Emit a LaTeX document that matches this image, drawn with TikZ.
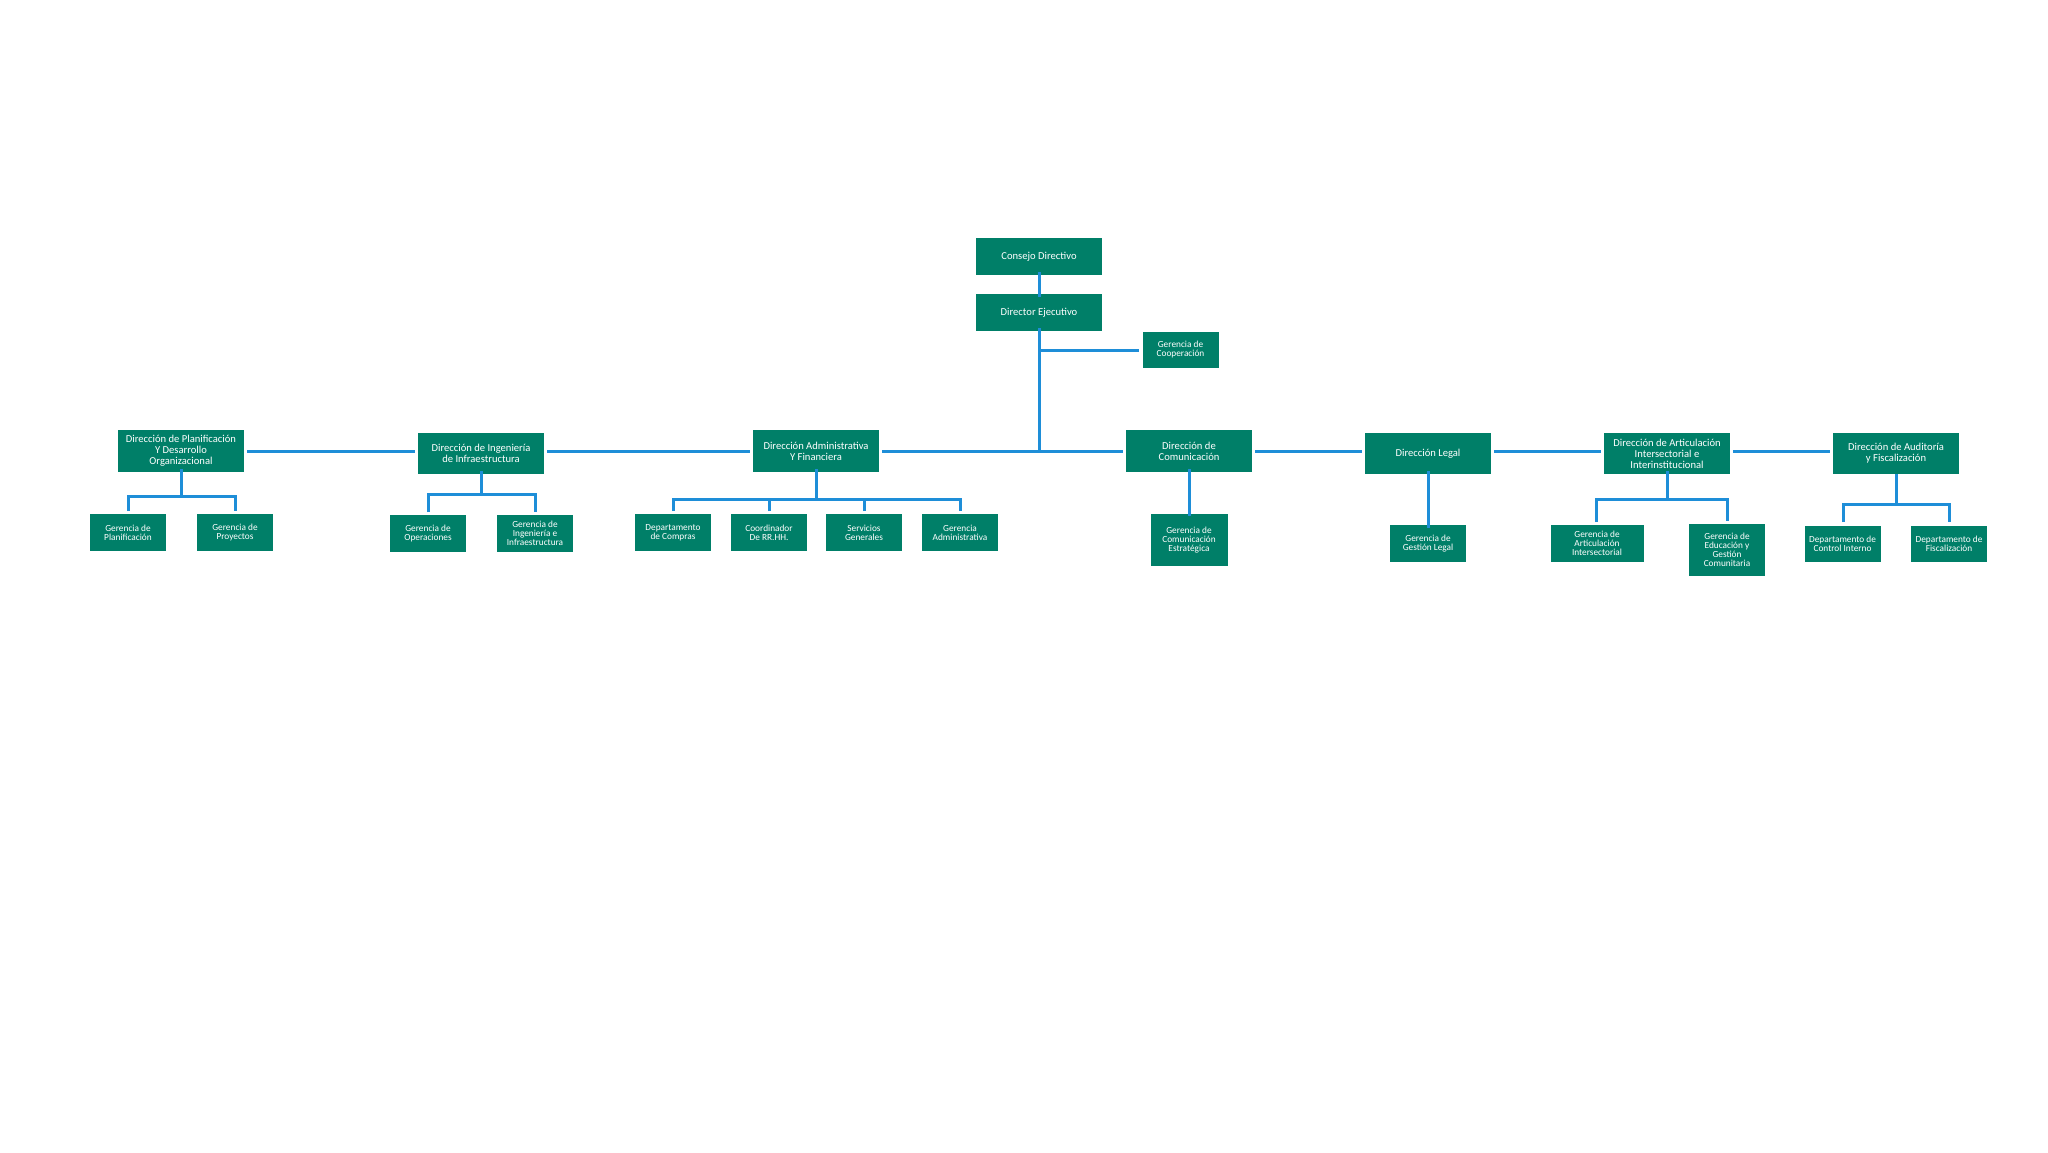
\documentclass[tikz,border=0pt]{standalone}
\usepackage{fontspec}
\setmainfont{Carlito}
\definecolor{boxgreen}{RGB}{0,127,104}
\definecolor{lineblue}{RGB}{30,142,216}
\begin{document}
\begin{tikzpicture}[x=1pt,y=-1pt,
  bigbox/.style={fill=boxgreen,draw=none,text=white,align=center,inner sep=0pt,
    minimum width=126pt,minimum height=#1,font=\fontsize{10.6}{11}\selectfont},
  bigbox/.default=41pt,
  smallbox/.style={fill=boxgreen,draw=none,text=white,align=center,inner sep=0pt,
    minimum width=76pt,minimum height=#1,font=\fontsize{9.3}{9}\selectfont},
  smallbox/.default=37pt,
  link/.style={draw=lineblue,line width=3pt}]
\useasboundingbox (0,0) rectangle (2048,1152);
% top
\node[bigbox=37pt] (cd) at (1039,256.5) {Consejo Directivo};
\node[bigbox=37pt] (de) at (1039,312.5) {Director Ejecutivo};
\node[smallbox=36pt] (gc) at (1180.5,350) {Gerencia de\\Cooperación};
% directions
\node[bigbox=42pt] (dp) at (181,451) {Dirección de Planificación\\Y Desarrollo\\Organizacional};
\node[bigbox] (di) at (481,453.5) {Dirección de Ingeniería\\de Infraestructura};
\node[bigbox=42pt] (da) at (816,451) {Dirección Administrativa\\Y Financiera};
\node[bigbox=42pt] (dc) at (1189,451) {Dirección de\\Comunicación};
\node[bigbox] (dl) at (1428,453.5) {Dirección Legal};
\node[bigbox] (dar) at (1667,453.5) {Dirección de Articulación\\Intersectorial e\\Interinstitucional};
\node[bigbox] (dau) at (1896,453.5) {Dirección de Auditoría\\y Fiscalización};
% children
\node[smallbox] (gp) at (128,532.5) {Gerencia de\\Planificación};
\node[smallbox] (gpr) at (235,532.5) {Gerencia de\\Proyectos};
\node[smallbox] (go) at (428,533.5) {Gerencia de\\Operaciones};
\node[smallbox] (gii) at (535,533.5) {Gerencia de\\Ingeniería e\\Infraestructura};
\node[smallbox] (dco) at (673,532.5) {Departamento\\de Compras};
\node[smallbox] (crh) at (769,532.5) {Coordinador\\De RR.HH.};
\node[smallbox] (sg) at (864,532.5) {Servicios\\Generales};
\node[smallbox] (ga) at (960,532.5) {Gerencia\\Administrativa};
\node[smallbox=52pt, minimum width=77pt] (gce) at (1189,540) {Gerencia de\\Comunicación\\Estratégica};
\node[smallbox] (ggl) at (1428,543.5) {Gerencia de\\Gestión Legal};
\node[smallbox=37pt, minimum width=93pt] (gai) at (1597,543.5) {Gerencia de\\Articulación\\Intersectorial};
\node[smallbox=52pt] (geg) at (1727,550) {Gerencia de\\Educación y\\Gestión\\Comunitaria};
\node[smallbox=36pt] (dci) at (1842.5,544) {Departamento de\\Control Interno};
\node[smallbox=36pt] (dfi) at (1949,544) {Departamento de\\Fiscalización};
% coordinates
\coordinate (hub) at (1039,451);
\coordinate (cop) at (1039,350);
% top connectors
\draw[link] ([yshift=3pt]cd.south) -- ([yshift=-3pt]de.north);
\draw[link] ([yshift=3pt]de.south) -- (hub);
\draw[link] (cop) -- ([xshift=-3pt]gc.west);
% main horizontal line
\draw[link] ([xshift=3pt]dp.east |- hub) -- ([xshift=-3pt]di.west |- hub);
\draw[link] ([xshift=3pt]di.east |- hub) -- ([xshift=-3pt]da.west |- hub);
\draw[link] ([xshift=3pt]da.east |- hub) -- ([xshift=-3pt]dc.west |- hub);
\draw[link] ([xshift=3pt]dc.east |- hub) -- ([xshift=-3pt]dl.west |- hub);
\draw[link] ([xshift=3pt]dl.east |- hub) -- ([xshift=-3pt]dar.west |- hub);
\draw[link] ([xshift=3pt]dar.east |- hub) -- ([xshift=-3pt]dau.west |- hub);
% brackets
\draw[link] ([yshift=3pt]dp.south) -- (181,496);
\draw[link] (gp.north |- 0,511) -- (128,496) -- (235,496) -- (gpr.north |- 0,511);
\draw[link] ([yshift=3pt]di.south) -- (481,494);
\draw[link] (go.north |- 0,512) -- (428,494) -- (535,494) -- (gii.north |- 0,512);
\draw[link] ([yshift=3pt]da.south) -- (816,499);
\draw[link] (dco.north |- 0,511) -- (673,499) -- (960,499) -- (ga.north |- 0,511);
\draw[link] (crh.north |- 0,511) -- (769,499);
\draw[link] (sg.north |- 0,511) -- (864,499);
\draw[link] ([yshift=3pt]dc.south) -- ([yshift=-2pt]gce.north);
\draw[link] ([yshift=3pt]dl.south) -- ([yshift=-3pt]ggl.north);
\draw[link] ([yshift=3pt]dar.south) -- (1667,499);
\draw[link] (1596,522) -- (1596,499) -- (1727,499) -- (1727,521);
\draw[link] (dau.south) -- (1896,504);
\draw[link] (1843,522) -- (1843,504) -- (1949,504) -- (1949,522);
\end{tikzpicture}
\end{document}
